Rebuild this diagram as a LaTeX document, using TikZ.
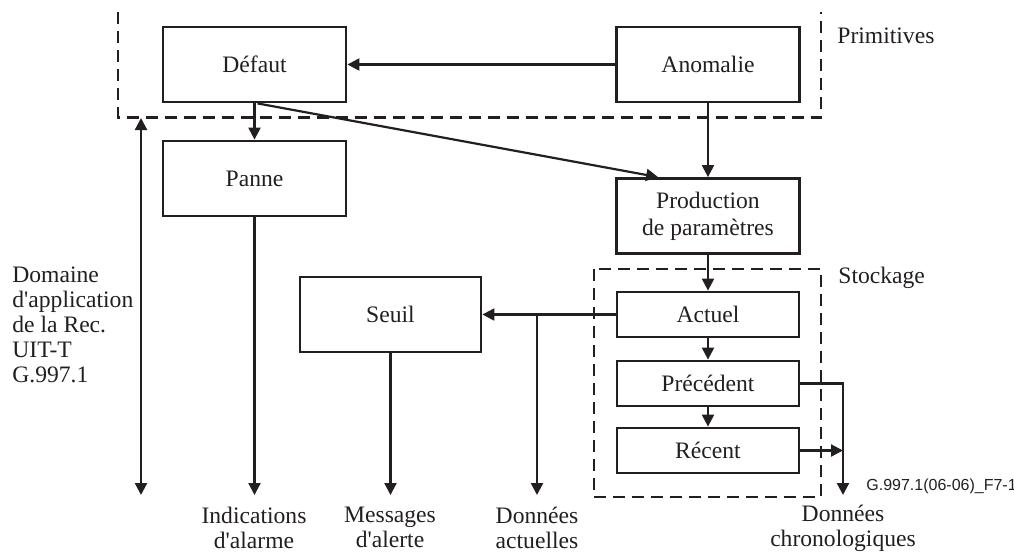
\documentclass[tikz,border=0pt]{standalone}
\usepackage{fontspec}
\setmainfont{Liberation Serif}
\newfontfamily\codefont{Liberation Sans}
\usetikzlibrary{arrows.meta,calc}
\definecolor{ink}{HTML}{231F20}
\tikzset{
  box/.style={draw=ink, line width=1.4pt, inner sep=0pt, align=center, text=ink},
  bigbox/.style={box, minimum width=91.5pt, minimum height=37.5pt},
  smallbox/.style={box, minimum width=91pt, minimum height=22.5pt},
  conn/.style={draw=ink, line width=1.1pt},
  arr/.style={conn, -{Triangle[length=6pt,width=6pt]}},
  darr/.style={conn, {Triangle[length=6pt,width=6pt]}-{Triangle[length=6pt,width=6pt]}},
  dashbox/.style={draw=ink, line width=1.2pt, dash pattern=on 6pt off 3.5pt},
  lbl/.style={inner sep=0pt, text=ink, align=center},
}
\begin{document}
\begin{tikzpicture}[x=0.5pt,y=-0.5pt,font=\fontsize{11.8}{12.5}\selectfont]
\useasboundingbox (0,0) rectangle (1014,554);

% dashed groups
\draw[dashbox] (118,12) -- (118,117.5) -- (821,117.5) -- (821,12);
\draw[dashbox] (594,269) rectangle (821,497);

% boxes
\node[bigbox] (defaut) at (254.5,64.5) {Défaut};
\node[bigbox] (anomalie) at (708,64.5) {Anomalie};
\node[bigbox] (panne) at (254.5,178.5) {Panne};
\node[bigbox, font=\fontsize{11.8}{13.5}\selectfont] (prod) at (708,216) {Production\\de paramètres};
\node[bigbox, minimum width=90.5pt] (seuil) at (390.5,314.5) {Seuil};
\node[smallbox] (actuel) at (708,314.5) {Actuel};
\node[smallbox] (prec) at (708,383.5) {Précédent};
\node[smallbox] (recent) at (708,450.5) {Récent};

% labels
\node[lbl, anchor=west] (prim) at (837,36) {Primitives};
\node[lbl, anchor=west] (stock) at (838,278) {Stockage};
\node[lbl, anchor=west, align=left] (dom) at (12,325) {Domaine\\d\textquotesingle application\\de la Rec.\\UIT-T\\G.997.1};
\node[lbl] (ind) at (254,527.5) {Indications\\d\textquotesingle alarme};
\node[lbl] (msg) at (390,527.5) {Messages\\d\textquotesingle alerte};
\node[lbl] (dact) at (537,527.5) {Données\\actuelles};
\node[lbl] (dchr) at (843,528) {Données\\chronologiques};
\node[lbl, anchor=west, font=\codefont\fontsize{8}{9}\selectfont] (code) at (866,486) {G.997.1(06-06)\_F7-1};

% coordinates for free ends
\coordinate (dtop) at (141,118);
\coordinate (dbot) at (141,495);
\coordinate (e1) at (254.5,495);
\coordinate (e2) at (390.5,495);
\coordinate (j1) at (537,314.5);
\coordinate (e3) at (537,495);
\coordinate (c1) at (843,383.5);
\coordinate (c2) at (843,450.5);
\coordinate (e4) at (843,495);

% connectors
\draw[arr] (anomalie.west) -- (defaut.east);
\draw[arr] (defaut.south) -- (panne.north);
\draw[arr] ([xshift=1.5pt]defaut.south) -- ([xshift=21.5pt]prod.north west);
\draw[arr] (anomalie.south) -- (prod.north);
\draw[arr] (prod.south) -- (actuel.north);
\draw[arr] (actuel.south) -- (prec.north);
\draw[arr] (prec.south) -- (recent.north);
\draw[arr] (actuel.west) -- (seuil.east);
\draw[arr] (j1) -- (e3);
\draw[arr] (panne.south) -- (e1);
\draw[arr] (seuil.south) -- (e2);
\draw[darr] (dtop) -- (dbot);
\draw[arr] (prec.east) -- (c1) -- (e4);
\draw[arr] (recent.east) -- (c2);
\end{tikzpicture}
\end{document}
